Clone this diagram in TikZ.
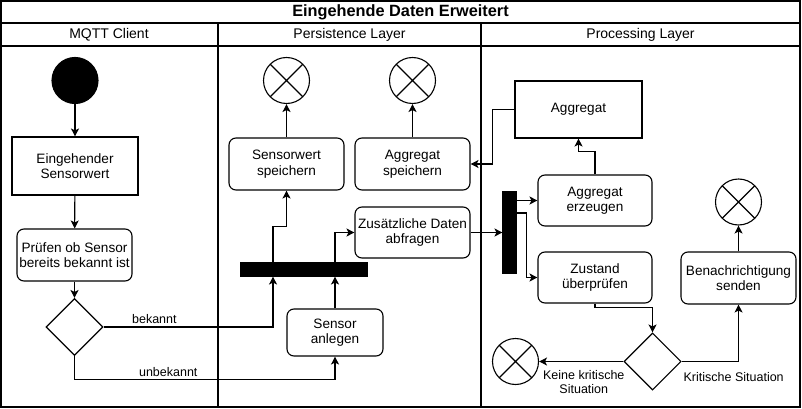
\documentclass[tikz,border=0pt]{standalone}
\usepackage{fontspec}
\setmainfont{Liberation Sans}
\usetikzlibrary{arrows.meta,shapes.geometric}

\begin{document}
\begin{tikzpicture}[x=1pt,y=-1pt,line width=1.1pt,
    txt/.style={font=\fontsize{13.6}{15.5}\selectfont},
    lbl/.style={font=\fontsize{12.5}{14}\selectfont,inner sep=3pt,align=center},
    act/.style={draw,rounded corners=7pt,align=center,inner sep=0,minimum width=115pt,minimum height=52pt,txt},
    box/.style={draw,align=center,inner sep=0,txt},
    bar/.style={draw,fill=black,inner sep=0},
    choice/.style={draw,diamond,inner sep=0,minimum size=57pt},
    stop/.style={draw,circle,inner sep=0,minimum size=46pt,path picture={\draw (path picture bounding box.north west)--(path picture bounding box.south east) (path picture bounding box.north east)--(path picture bounding box.south west);}},
    arr/.style={-{Stealth[length=8pt,width=8pt,inset=2pt]}}]
    \useasboundingbox (0,0) rectangle (802,409);
    \draw (1,1) rectangle (800,407);
    \draw (1,23)--(800,23);
    \draw (1,46)--(800,46);
    \draw (218,23)--(218,407);
    \draw (481,23)--(481,407);

    \node[font=\fontsize{16.3}{18}\selectfont\bfseries] (title) at (400.5,12) {Eingehende Daten Erweitert};
    \node[font=\fontsize{14}{16}\selectfont] (mqtt) at (109,35) {MQTT Client};
    \node[font=\fontsize{14}{16}\selectfont] (persist) at (349.5,35) {Persistence Layer};
    \node[font=\fontsize{14}{16}\selectfont] (process) at (640.5,35) {Processing Layer};

    \node[draw,fill=black,circle,minimum size=46pt] (start) at (75,80.5) {};
    \node[box,minimum width=126pt,minimum height=58pt] (incoming) at (75,166) {Eingehender\\Sensorwert};
    \node[act] (check) at (74.5,255) {Pr\"ufen ob Sensor\\bereits bekannt ist};
    \node[choice] (known) at (74.5,327) {};

    \node[bar,minimum width=126pt,minimum height=13pt] (fork1) at (304,269.5) {};
    \node[act,minimum width=96pt,minimum height=47pt] (create) at (335,332.5) {Sensor\\anlegen};
    \node[act] (savevalue) at (286.5,164) {Sensorwert\\speichern};
    \node[act] (saveagg) at (412.5,164) {Aggregat\\speichern};
    \node[act,minimum height=51pt] (query) at (412.5,232.5) {Zus\"atzliche Daten\\abfragen};
    \node[stop] (end1) at (286.5,80.5) {};
    \node[stop] (end2) at (412.5,80.5) {};

    \node[box,minimum width=127pt,minimum height=57pt] (agg) at (578.5,109.5) {Aggregat};
    \node[bar,minimum width=13pt,minimum height=81pt] (fork2) at (509.5,232.5) {};
    \node[act,minimum width=114pt,minimum height=51pt] (makeagg) at (595,200.5) {Aggregat\\erzeugen};
    \node[act,minimum width=114pt,minimum height=51pt] (state) at (595,277.5) {Zustand\\\"uberpr\"ufen};
    \node[choice] (critical) at (652.5,361.5) {};
    \node[stop] (end3) at (515.5,361.5) {};
    \node[act] (notify) at (738.5,278) {Benachrichtigung\\senden};
    \node[stop] (end4) at (738.5,202) {};

    \draw[arr] (start)--(incoming);
    \draw[arr] (incoming)--(check);
    \draw[arr] (check)--(known);
    \draw[arr] (known.east) -| node[lbl,pos=0.15,above]{bekannt} ([xshift=-31pt]fork1.south);
    \draw[arr] (known.south) -- ++(0,23) -| node[lbl,pos=0.18,above,yshift=-1pt]{unbekannt} (create.south);
    \draw[arr] (create) -- (create |- fork1.south);
    \draw[arr] ([xshift=-31pt]fork1.north) -- ++(0,-36) -| (savevalue.south);
    \draw[arr] ([xshift=31pt]fork1.north) |- (query.west);
    \draw[arr] (savevalue)--(end1);
    \draw[arr] (saveagg)--(end2);

    \draw[arr] (agg.west) -- ++(-22,0) |- (saveagg.east);
    \draw[arr] (makeagg.north) -- ++(0,-23) -| (agg.south);
    \draw[arr] (query)--(fork2);
    \draw[arr] (fork2.east |- makeagg.west) -- (makeagg.west);
    \draw[arr] ([yshift=19.5pt]fork2.east) -- ++(10,0) |- (state.west);
    \draw[arr] (state.south) -- ++(0,4) -| (critical.north);
    \draw[arr] (critical.west) -- node[lbl,pos=0.47,below,yshift=-5pt]{Keine kritische\\Situation} (end3.east);
    \draw[arr] (critical.east) -| node[lbl,pos=0.44,below,yshift=-7pt,xshift=2pt]{Kritische Situation} (notify.south);
    \draw[arr] (notify)--(end4);
\end{tikzpicture}
\end{document}
